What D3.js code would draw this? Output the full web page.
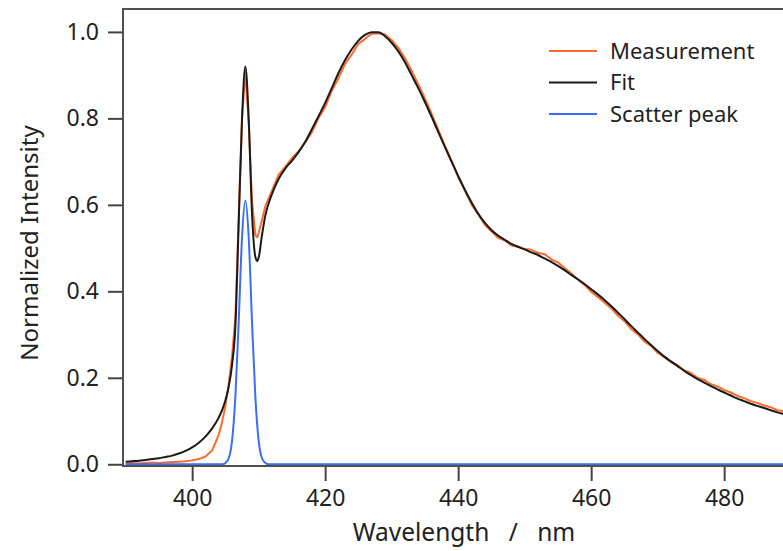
<!DOCTYPE html>
<html lang="en">
<head>
  <meta charset="UTF-8">
  <title>Normalized Intensity vs Wavelength</title>
  <script src="https://cdn.jsdelivr.net/npm/d3@7"></script>
  <style>
    body { margin: 0; background: #fff; }
    svg { display: block; font-family: "Noto Sans", sans-serif; }
  </style>
</head>
<body>
<svg></svg>
<script>
  const width = 783, height = 551

  // wavelength (nm) / normalized intensity
  const fitX = [390, 391, 392, 393, 394, 395, 396, 397, 398, 399, 400, 401, 402, 403, 404, 404.5, 405, 405.5, 406, 406.5,
    407, 407.5, 408, 408.5, 409, 409.5, 409.8, 410, 410.5, 411, 412, 413, 414, 415, 416, 417, 418, 419, 420, 421,
    422, 423, 424, 425, 426, 427, 428, 429, 430, 431, 432, 433, 434, 435, 436, 437, 438, 439, 440, 441,
    442, 443, 444, 445, 446, 447, 448, 449, 450, 451, 452, 453, 454, 455, 456, 457, 458, 459, 460, 461,
    462, 463, 464, 465, 466, 467, 468, 469, 470, 471, 472, 473, 474, 475, 476, 477, 478, 479, 480, 481,
    482, 483, 484, 485, 486, 487, 488, 489, 490]
  const fitY = [0.006, 0.007, 0.008, 0.010, 0.012, 0.014, 0.017, 0.020, 0.025, 0.031, 0.039, 0.050, 0.064, 0.083, 0.108, 0.125, 0.148, 0.180, 0.230, 0.320,
    0.560, 0.800, 0.920, 0.800, 0.580, 0.480, 0.470, 0.478, 0.530, 0.575, 0.625, 0.660, 0.684, 0.702, 0.722, 0.746, 0.775, 0.805, 0.836, 0.870,
    0.905, 0.935, 0.960, 0.980, 0.993, 0.999, 0.999, 0.990, 0.975, 0.955, 0.930, 0.900, 0.870, 0.838, 0.804, 0.769, 0.734, 0.700, 0.667, 0.635,
    0.606, 0.580, 0.559, 0.542, 0.529, 0.519, 0.510, 0.503, 0.497, 0.490, 0.484, 0.476, 0.468, 0.459, 0.449, 0.438, 0.428, 0.417, 0.405, 0.393,
    0.380, 0.366, 0.351, 0.336, 0.320, 0.305, 0.290, 0.276, 0.262, 0.249, 0.238, 0.227, 0.216, 0.206, 0.197, 0.189, 0.181, 0.173, 0.166, 0.159,
    0.152, 0.146, 0.140, 0.135, 0.130, 0.125, 0.120, 0.116, 0.112]

  const measX = fitX
  const measY = [0.002, 0.003, 0.002, 0.003, 0.004, 0.003, 0.004, 0.005, 0.006, 0.007, 0.009, 0.012, 0.018, 0.032, 0.068, 0.098, 0.135, 0.185, 0.250, 0.340,
    0.570, 0.800, 0.910, 0.790, 0.610, 0.530, 0.525, 0.535, 0.565, 0.597, 0.633, 0.670, 0.688, 0.708, 0.724, 0.744, 0.768, 0.801, 0.826, 0.864,
    0.893, 0.926, 0.948, 0.973, 0.984, 0.996, 0.997, 0.994, 0.981, 0.963, 0.939, 0.910, 0.879, 0.846, 0.811, 0.774, 0.737, 0.703, 0.664, 0.634,
    0.601, 0.578, 0.554, 0.539, 0.524, 0.518, 0.506, 0.503, 0.498, 0.496, 0.489, 0.486, 0.474, 0.467, 0.454, 0.442, 0.427, 0.415, 0.399, 0.387,
    0.374, 0.361, 0.344, 0.331, 0.313, 0.301, 0.284, 0.274, 0.258, 0.248, 0.236, 0.229, 0.217, 0.211, 0.200, 0.195, 0.185, 0.180, 0.172, 0.166,
    0.158, 0.153, 0.146, 0.142, 0.136, 0.132, 0.125, 0.123, 0.117]

  const scatX = [390, 400, 404.5, 405, 405.5, 406, 406.5, 407, 407.5, 408, 408.5, 409, 409.5, 410, 410.5, 411, 411.5, 420, 500]
  const scatY = [0, 0, 0, 0.003, 0.014, 0.054, 0.157, 0.330, 0.525, 0.610, 0.525, 0.330, 0.157, 0.054, 0.014, 0.003, 0, 0, 0]

  const seriesNames = ['Measurement', 'Fit', 'Scatter peak']
  const seriesColors = ['#ff6b2b', '#1a1a1a', '#3a6ef5']
  const xTicks = [400, 420, 440, 460, 480]
  const yTicks = [0.0, 0.2, 0.4, 0.6, 0.8, 1.0]

  const series = [
    {name: seriesNames[0], color: seriesColors[0], pts: measX.map((x, i) => [x, measY[i]]), curve: d3.curveLinear},
    {name: seriesNames[1], color: seriesColors[1], pts: fitX.map((x, i) => [x, fitY[i]]), curve: d3.curveMonotoneX},
    {name: seriesNames[2], color: seriesColors[2], pts: scatX.map((x, i) => [x, scatY[i]]), curve: d3.curveMonotoneX}
  ]

  const margin = {top: 9, left: 123, bottom: 466}

  const svg = d3.select('svg')
      .attr('width', width)
      .attr('height', height)
      .attr('viewBox', [0, 0, width, height])

  const x = d3.scaleLinear()
      .domain([389.6, 500])
      .range([margin.left, margin.left + 110.4 * 6.65])

  const y = d3.scaleLinear()
      .domain([-0.004, 1.053])
      .range([margin.bottom, margin.top])

  svg.append('clipPath').attr('id', 'clip')
    .append('rect')
      .attr('x', margin.left)
      .attr('y', margin.top)
      .attr('width', x.range()[1] - margin.left)
      .attr('height', margin.bottom - margin.top)

  const line = d3.line().x(d => x(d[0])).y(d => y(d[1]))

  svg.append('g')
      .attr('clip-path', 'url(#clip)')
    .selectAll('path')
    .data(series)
    .join('path')
      .attr('fill', 'none')
      .attr('stroke', d => d.color)
      .attr('stroke-width', 2)
      .attr('stroke-linejoin', 'round')
      .attr('d', d => line.curve(d.curve)(d.pts))

  // 坐标轴
  const xAxis = svg.append('g')
      .attr('transform', `translate(0,${margin.bottom})`)
      .call(d3.axisBottom(x).tickValues(xTicks).tickFormat(d3.format('d')).tickSize(15).tickPadding(9))

  const yAxis = svg.append('g')
      .attr('transform', `translate(${margin.left},0)`)
      .call(d3.axisLeft(y).tickValues(yTicks).tickFormat(d3.format('.1f')).tickSize(15).tickPadding(9))

  for (const g of [xAxis, yAxis]) {
    g.select('.domain').remove()
    g.selectAll('.tick line').attr('stroke', '#444').attr('stroke-width', 2)
    g.selectAll('.tick text').attr('fill', '#222').style('font-size', '23px').style('font-family', '"Noto Sans", sans-serif')
  }

  // frame: left, top, bottom
  svg.append('path')
      .attr('fill', 'none')
      .attr('stroke', '#505050')
      .attr('stroke-width', 2)
      .attr('d', `M${width + 5},${margin.top}H${margin.left}V${margin.bottom}H${width + 5}`)

  svg.append('text')
      .attr('x', 464)
      .attr('y', 541)
      .attr('text-anchor', 'middle')
      .attr('fill', '#222')
      .style('font-size', '24.5px')
      .style('word-spacing', '13px')
      .text('Wavelength / nm')

  svg.append('text')
      .attr('transform', 'translate(38,243) rotate(-90)')
      .attr('text-anchor', 'middle')
      .attr('fill', '#222')
      .style('font-size', '24px')
      .text('Normalized Intensity')

  // legend
  const legend = svg.append('g')
    .selectAll('g')
    .data(series)
    .join('g')
      .attr('transform', (d, i) => `translate(549,${51 + i * 31.5})`)

  legend.append('line')
      .attr('x2', 48)
      .attr('stroke', d => d.color)
      .attr('stroke-width', 2)

  legend.append('text')
      .attr('x', 61)
      .attr('dy', '0.35em')
      .attr('fill', '#222')
      .style('font-size', '22px')
      .text(d => d.name)
</script>
</body>
</html>
